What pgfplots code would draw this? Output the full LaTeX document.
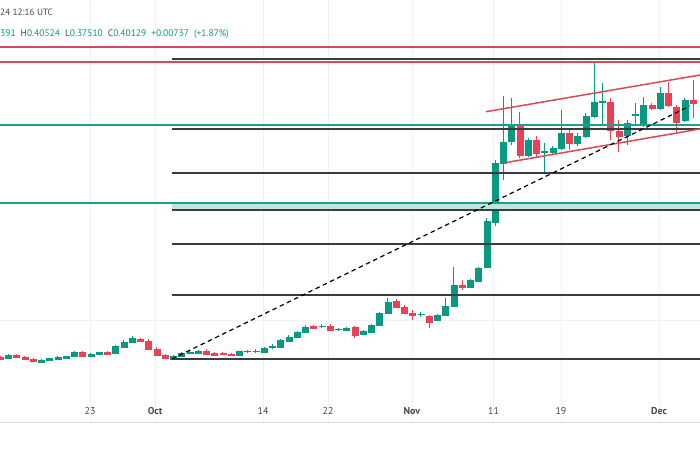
\documentclass[border=0pt]{standalone}
\usepackage{fontspec}
\setmainfont{PT Sans}
\usepackage{pgfplots}
\pgfplotsset{compat=1.18}

\definecolor{up}{RGB}{8,153,129}
\definecolor{dn}{RGB}{236,64,84}
\definecolor{hline}{RGB}{218,72,88}
\definecolor{tealline}{RGB}{30,160,140}
\definecolor{tealfill}{RGB}{190,230,222}
\definecolor{fib}{RGB}{60,60,60}
\definecolor{gridc}{RGB}{240,242,246}
\definecolor{txt}{RGB}{70,72,80}

% one candle per row: day (0 = 1 Oct), open, high, low, close
\pgfplotstableread{
d o h l c
-18 92 96 91 94.5
-14 88 91 87.5 90
-13 89.5 92 89 91.5
-12 91 93.5 90.5 93
-11 92 94 91.5 93.5
-10 94 99 93.5 98
-8 94 97 93.5 96
-7 95.5 98 95 97.5
-5 97 105 96 104
-4 103 110 102.5 108
-3 108 114 107.5 111.5
2 91 95 90.5 93.5
3 94 98 93 97
4 96.5 99 96 98
5 97 99.5 96.5 98.5
10 95 99 94.5 98.5
11 98.5 100 97 98.6
12 98.5 101 97 98.7
13 98 103 97.5 102
14 102.5 106 101 103.5
15 103 111 102.5 110
16 109 115 108.5 113
17 113 119 112.5 118
18 118 125 117.5 123
20 123.5 126 122 123.6
22 121 122 119 121.1
23 120 123 119.5 122
25 115.5 120 115 119
26 118 126 117.5 125
27 125 138 124.5 137
28 137 152 136.5 148
32 136 138 133 136.1
34 130 136 129 135
35 135 152 134 144
36 144 183 143 165
38 163 171 162 170
39 169 183 168 182
40 183 232 182 229
41 228 290 224 287
42 287 354 270 308
43 309 352 305 324
45 295 312 293 310
47 298 307 278 298.2
48 298 304 295 302
49 302 340 300 317
51 307 317 304 314
52 314 337 312 334
53 334 387 332 348
54 348 367 325 348.2
57 315 330 305 327
58 335 347 325 335.3
59 325 353 323 345
61 342 363 340 357
64 330 352 328 350
66 349 354 340 352
}\upcandles

\pgfplotstableread{
d o h l c
-19 93 94 90 91
-17 94.5 95.5 92 92.5
-16 93 94 90.5 91
-15 91 92 88 88.5
-9 98 99 93.5 94
-6 98 98.5 95 95.5
-2 111 112 108 108.5
-1 108.5 111 100 101
0 101 103 94 95
1 94.5 95.5 91.5 92
6 98.5 101 95.5 96
7 97 97.5 94.5 95
8 96.5 97.5 95 95.5
9 96 96.5 94 94.5
19 124 125 121.5 122
21 124 126 119 120
24 123 124 112 115
29 149 151 142 143
30 143 145 136 137
31 137 140 130 135
33 134 135 122 128
37 165 170 160 163
44 324 338 292 295
46 310 314 292 297
50 317 320 300 307
55 348 352 310 320
56 319 330 298 314
60 345 347 340 342
62 357 368 343 345
63 343 345 318 328
65 350 370 332 347
}\downcandles

\pgfplotsset{
  candle/.style={
    color=#1, only marks, mark=*, mark size=0.1pt, scatter,
    visualization depends on={\thisrow{o}-\thisrow{c} \as \dO},
    visualization depends on={\thisrow{h}-\thisrow{c} \as \dH},
    visualization depends on={\thisrow{l}-\thisrow{c} \as \dL},
    scatter/@pre marker code/.code={
      \draw[#1, line width=1bp] (axis direction cs:0,\dL) -- (axis direction cs:0,\dH);
      \filldraw[#1, line width=0.7bp] (axis direction cs:-0.36,0) rectangle (axis direction cs:0.36,\dO);
    },
    scatter/@post marker code/.code={},
  },
}

\begin{document}
\begin{tikzpicture}
\begin{axis}[
  width=700bp, height=450bp, scale only axis,
  xmin=-19.03, xmax=65.82, ymin=0, ymax=450,
  hide axis, clip mode=individual,
]
\coordinate (bl) at (rel axis cs:0,0);
\coordinate (tr) at (rel axis cs:1,1);

% faint grid
\pgfplotsinvokeforeach{-8.12,-0.24,12.85,20.73,30.9,40.8,48.97,60.85}{
  \draw[gridc, line width=0.8bp] (axis cs:#1,28) -- (axis cs:#1,450);
}
\draw[gridc, line width=0.8bp] (axis cs:-19.03,130) -- (axis cs:65.82,130);
\draw[gridc!80!gray, line width=0.8bp] (axis cs:-19.03,28) -- (axis cs:65.82,28);

\addplot[candle=up] table[x=d, y=c] {\upcandles};
\addplot[candle=dn] table[x=d, y=c] {\downcandles};

% fibonacci levels
\fill[tealfill] (axis cs:1.8,240) rectangle (axis cs:65.82,247);
\pgfplotsinvokeforeach{91,155,206,240,277,321,391}{
  \draw[fib, line width=1.4bp] (axis cs:1.8,#1) -- (axis cs:65.82,#1);
}

% horizontal levels
\draw[tealline, line width=1.8bp] (axis cs:-19.03,325) -- (axis cs:65.82,325);
\draw[tealline, line width=1.8bp] (axis cs:-19.03,247) -- (axis cs:65.82,247);
\draw[hline, line width=1.8bp] (axis cs:-19.03,403) -- (axis cs:65.82,403);
\draw[hline, line width=1.8bp] (axis cs:-19.03,388) -- (axis cs:65.82,388);

% channel and trend line
\draw[hline, line width=1.5bp] (axis cs:39.9,338.3) -- (axis cs:65.82,375);
\draw[hline, line width=1.5bp] (axis cs:42.2,287.3) -- (axis cs:65.82,321);
\draw[black, line width=1.2bp, dash pattern=on 4.5bp off 3.5bp] (axis cs:1.8,91) -- (axis cs:64.6,344);

% header
\node[anchor=base west, inner sep=0pt, font=\fontsize{9.2}{11}\selectfont, text=txt]
  at (axis cs:-19.03,434) {24 12:16 UTC};
\node[anchor=base west, inner sep=0pt, font=\fontsize{9.5}{11}\selectfont, text=up]
  at (axis cs:-19.03,413) {391\hspace{5bp}{\color{txt}H}0.40524\hspace{5bp}{\color{txt}L}0.37510\hspace{5bp}{\color{txt}C}0.40129\hspace{5bp}+0.00737\hspace{5bp}(+1.87\%)};

% date labels
\node[font=\fontsize{10}{12}\selectfont, text=txt] at (axis cs:-8.12,39) {23};
\node[font=\bfseries\fontsize{10}{12}\selectfont, text=txt] at (axis cs:-0.24,39) {Oct};
\node[font=\fontsize{10}{12}\selectfont, text=txt] at (axis cs:12.85,39) {14};
\node[font=\fontsize{10}{12}\selectfont, text=txt] at (axis cs:20.73,39) {22};
\node[font=\bfseries\fontsize{10}{12}\selectfont, text=txt] at (axis cs:30.9,39) {Nov};
\node[font=\fontsize{10}{12}\selectfont, text=txt] at (axis cs:40.8,39) {11};
\node[font=\fontsize{10}{12}\selectfont, text=txt] at (axis cs:48.97,39) {19};
\node[font=\bfseries\fontsize{10}{12}\selectfont, text=txt] at (axis cs:60.85,39) {Dec};
\end{axis}
\pgfresetboundingbox
\path[use as bounding box] (bl) rectangle (tr);
\end{tikzpicture}
\end{document}
